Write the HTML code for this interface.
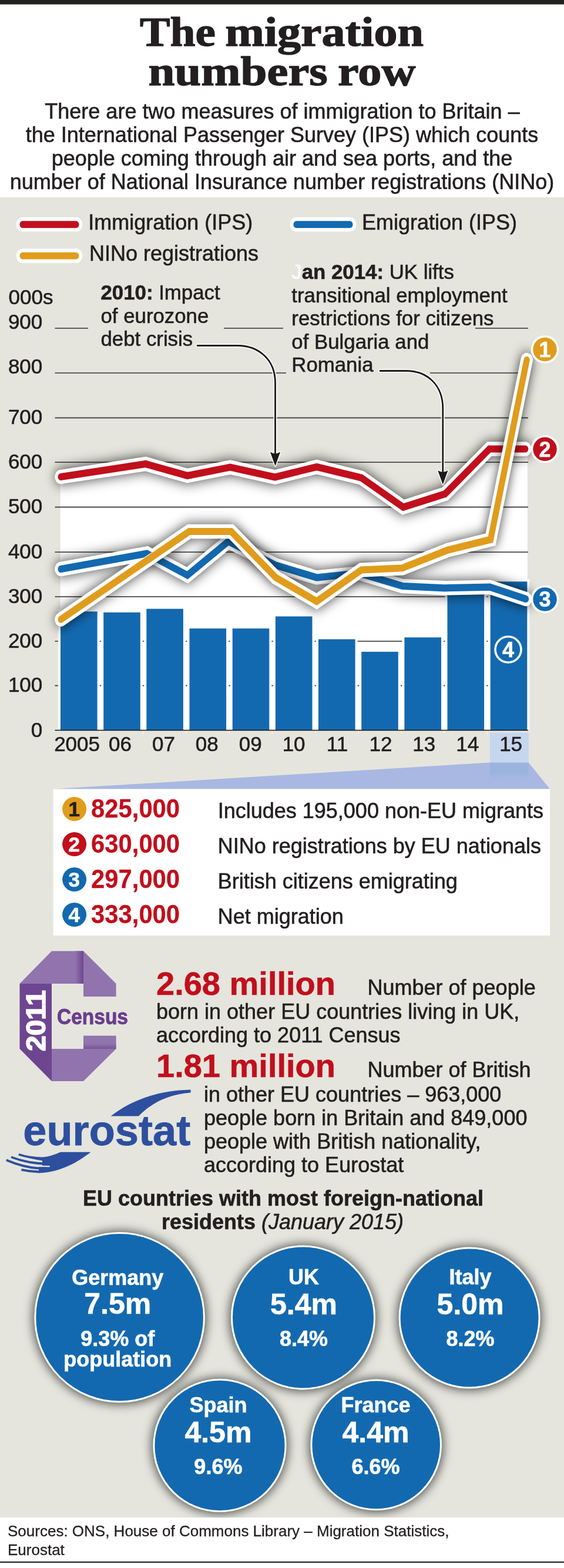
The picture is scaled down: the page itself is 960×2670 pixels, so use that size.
<!DOCTYPE html>
<html lang="en">
<head>
<meta charset="utf-8">
<title>The migration numbers row</title>
<style>
html,body{margin:0;padding:0;background:#fff;}
body{width:960px;height:2670px;overflow:hidden;font-family:"Liberation Sans", sans-serif;}
svg{display:block;}
text{white-space:pre;}
</style>
</head>
<body>
<svg width="960" height="2670" viewBox="0 0 960 2670">
<rect x="0" y="0" width="960" height="2670" fill="#fff"/>
<rect x="0" y="0" width="960" height="7.5" fill="#222220"/>
<rect x="0" y="336" width="960" height="2248" fill="#e5e5dd"/>
<rect x="0" y="2658.8" width="960" height="2.3" fill="#222220"/>
<g font-family="'Liberation Serif', serif" font-weight="bold" font-size="70" fill="#231f20" stroke="#231f20" stroke-width="1.4" stroke-linejoin="round">
<text y="77.8"><tspan x="238.1" textLength="128.8" lengthAdjust="spacingAndGlyphs">The</tspan> <tspan x="383.3" textLength="337.6" lengthAdjust="spacingAndGlyphs">migration</tspan></text>
<text y="144.8"><tspan x="252.4" textLength="305.3" lengthAdjust="spacingAndGlyphs">numbers</tspan> <tspan x="575" textLength="132.4" lengthAdjust="spacingAndGlyphs">row</tspan></text>
</g>
<g font-family="'Liberation Sans', sans-serif" font-size="36" text-anchor="middle" fill="#231f20" stroke="#231f20" stroke-width="0.6">
<text x="480.5" y="201.5">There are two measures of immigration to Britain –</text>
<text x="480" y="241.8">the International Passenger Survey (IPS) which counts</text>
<text x="480" y="282.1">people coming through air and sea ports, and the</text>
<text x="480" y="322.4">number of National Insurance number registrations (NINo)</text>
</g>
<g font-family="'Liberation Sans', sans-serif" fill="#231f20">
<g transform="scale(0.84,1)" stroke-linecap="round">
<line x1="45.12" y1="382.2" x2="154.88" y2="382.2" stroke="#fff" stroke-width="24.2"/>
<line x1="45.83" y1="382.2" x2="154.17" y2="382.2" stroke="#c10f1c" stroke-width="11.9"/>
</g>
<text x="150.2" y="391" font-size="36" stroke="#231f20" stroke-width="0.6">Immigration (IPS)</text>
<g transform="scale(0.84,1)" stroke-linecap="round">
<line x1="45.12" y1="435.6" x2="154.88" y2="435.6" stroke="#fff" stroke-width="24.2"/>
<line x1="45.83" y1="435.6" x2="154.17" y2="435.6" stroke="#e09c1c" stroke-width="11.9"/>
</g>
<text x="151.9" y="444" font-size="36" stroke="#231f20" stroke-width="0.6">NINo registrations</text>
<g transform="scale(0.84,1)" stroke-linecap="round">
<line x1="599.88" y1="382.2" x2="709.64" y2="382.2" stroke="#fff" stroke-width="24.2"/>
<line x1="600.60" y1="382.2" x2="708.93" y2="382.2" stroke="#1369af" stroke-width="11.9"/>
</g>
<text x="616" y="391" font-size="36" stroke="#231f20" stroke-width="0.6">Emigration (IPS)</text>
<defs><filter id="sh" filterUnits="userSpaceOnUse" x="0" y="500" width="1200" height="900"><feGaussianBlur stdDeviation="11"/></filter><filter id="sh2" filterUnits="userSpaceOnUse" x="0" y="2000" width="960" height="670"><feGaussianBlur stdDeviation="9"/></filter><linearGradient id="hl" x1="0" y1="0" x2="0" y2="1"><stop offset="0" stop-color="#8fb0dc" stop-opacity="0.55"/><stop offset="0.5" stop-color="#8fb0dc" stop-opacity="0.6"/><stop offset="1" stop-color="#a8b8e2" stop-opacity="0.15"/></linearGradient><linearGradient id="fold1" x1="0" y1="0" x2="1" y2="0"><stop offset="0" stop-color="#9174ad"/><stop offset="1" stop-color="#6e4590"/></linearGradient><linearGradient id="fold2" x1="0" y1="0" x2="0" y2="1"><stop offset="0" stop-color="#9174ad"/><stop offset="1" stop-color="#6e4590"/></linearGradient></defs>
<polygon points="103.6,812 248,790 319,810 391.8,795.6 468,812.5 539,795 615,813.5 686.4,863.7 757.7,841 833,764.5 894.2,764.5 897.8,764.5 897.8,1243 102.8,1243 102.8,812" fill="#fff"/>
<line x1="93.5" y1="558.8" x2="150" y2="558.8" stroke="#4a4a4a" stroke-width="1.8"/>
<line x1="381" y1="558.8" x2="482" y2="558.8" stroke="#4a4a4a" stroke-width="1.8"/>
<line x1="809" y1="558.8" x2="899" y2="558.8" stroke="#4a4a4a" stroke-width="1.8"/>
<line x1="93.5" y1="635.1" x2="487" y2="635.1" stroke="#4a4a4a" stroke-width="1.8"/>
<line x1="732" y1="635.1" x2="899" y2="635.1" stroke="#4a4a4a" stroke-width="1.8"/>
<line x1="93.5" y1="711.5" x2="899" y2="711.5" stroke="#4a4a4a" stroke-width="1.8"/>
<line x1="93.5" y1="787.2" x2="899" y2="787.2" stroke="#4a4a4a" stroke-width="1.8"/>
<line x1="93.5" y1="863.5" x2="899" y2="863.5" stroke="#4a4a4a" stroke-width="1.8"/>
<line x1="93.5" y1="940.2" x2="899" y2="940.2" stroke="#4a4a4a" stroke-width="1.8"/>
<line x1="93.5" y1="1016.1" x2="899" y2="1016.1" stroke="#4a4a4a" stroke-width="1.8"/>
<line x1="93.5" y1="1091.8" x2="899" y2="1091.8" stroke="#4a4a4a" stroke-width="1.8"/>
<line x1="93.5" y1="1167.5" x2="899" y2="1167.5" stroke="#4a4a4a" stroke-width="1.8"/>
<rect x="98.9" y="1037.4" width="70.8" height="205.6" fill="#fff"/>
<rect x="172.1" y="1038.9" width="70.8" height="204.1" fill="#fff"/>
<rect x="245.2" y="1032.8" width="70.8" height="210.2" fill="#fff"/>
<rect x="318.4" y="1066.3" width="70.8" height="176.7" fill="#fff"/>
<rect x="391.6" y="1066.3" width="70.8" height="176.7" fill="#fff"/>
<rect x="464.8" y="1045.7" width="70.8" height="197.3" fill="#fff"/>
<rect x="537.9" y="1084.6" width="70.8" height="158.4" fill="#fff"/>
<rect x="611.1" y="1105.9" width="70.8" height="137.1" fill="#fff"/>
<rect x="684.3" y="1081.5" width="70.8" height="161.5" fill="#fff"/>
<rect x="757.4" y="1001.6" width="70.8" height="241.4" fill="#fff"/>
<rect x="830.6" y="986.4" width="70.8" height="256.6" fill="#fff"/>
<rect x="103.0" y="1041.3" width="62.6" height="201.7" fill="#1369af"/>
<rect x="176.2" y="1042.8" width="62.6" height="200.2" fill="#1369af"/>
<rect x="249.3" y="1036.7" width="62.6" height="206.3" fill="#1369af"/>
<rect x="322.5" y="1070.2" width="62.6" height="172.8" fill="#1369af"/>
<rect x="395.7" y="1070.2" width="62.6" height="172.8" fill="#1369af"/>
<rect x="468.9" y="1049.6" width="62.6" height="193.4" fill="#1369af"/>
<rect x="542.0" y="1088.5" width="62.6" height="154.5" fill="#1369af"/>
<rect x="615.2" y="1109.8" width="62.6" height="133.2" fill="#1369af"/>
<rect x="688.4" y="1085.4" width="62.6" height="157.6" fill="#1369af"/>
<rect x="761.5" y="1005.5" width="62.6" height="237.5" fill="#1369af"/>
<rect x="834.7" y="990.3" width="62.6" height="252.7" fill="#1369af"/>
<polygon points="90.5,1343.6 834,1298.4 899.7,1298.4 936,1343.6" fill="#a8b8e2"/>
<rect x="834" y="1247.6" width="65.7" height="50.8" fill="#c5d6ee"/>
<rect x="834" y="1298.4" width="65.7" height="33.2" fill="url(#hl)"/>
<rect x="170.2" y="1244.3" width="1.2" height="5" fill="#fff" opacity="0.8"/>
<rect x="243.3" y="1244.3" width="1.2" height="5" fill="#fff" opacity="0.8"/>
<rect x="316.5" y="1244.3" width="1.2" height="5" fill="#fff" opacity="0.8"/>
<rect x="389.7" y="1244.3" width="1.2" height="5" fill="#fff" opacity="0.8"/>
<rect x="462.9" y="1244.3" width="1.2" height="5" fill="#fff" opacity="0.8"/>
<rect x="536.0" y="1244.3" width="1.2" height="5" fill="#fff" opacity="0.8"/>
<rect x="609.2" y="1244.3" width="1.2" height="5" fill="#fff" opacity="0.8"/>
<rect x="682.4" y="1244.3" width="1.2" height="5" fill="#fff" opacity="0.8"/>
<rect x="755.5" y="1244.3" width="1.2" height="5" fill="#fff" opacity="0.8"/>
<rect x="828.7" y="1244.3" width="1.2" height="5" fill="#fff" opacity="0.8"/>
<line x1="93.5" y1="1243.5" x2="899" y2="1243.5" stroke="#111" stroke-width="1.7"/>
<clipPath id="cb"><polygon points="101.2,1057.5 101.2,860 438.1,860 438.1,866.5"/></clipPath>
<g transform="scale(0.84,1)" fill="none" stroke-linecap="round" stroke-linejoin="miter" stroke-miterlimit="10">
<polyline points="123.33,812 295.24,790 379.76,810 466.43,795.6 557.14,812.5 641.67,795 732.14,813.5 817.14,863.7 902.02,841 991.67,764.5 1064.52,764.5" stroke="#000" stroke-opacity="0.75" stroke-width="24.4" filter="url(#sh)"/>
<polyline points="123.33,812 295.24,790 379.76,810 466.43,795.6 557.14,812.5 641.67,795 732.14,813.5 817.14,863.7 902.02,841 991.67,764.5 1064.52,764.5" stroke="#fff" stroke-width="24.4"/>
<polyline points="123.33,812 295.24,790 379.76,810 466.43,795.6 557.14,812.5 641.67,795 732.14,813.5 817.14,863.7 902.02,841 991.67,764.5 1064.52,764.5" stroke="#c10f1c" stroke-width="12.2"/>
</g>
<g transform="scale(0.84,1)" fill="none" stroke-linecap="round" stroke-linejoin="miter" stroke-miterlimit="10">
<polyline points="123.33,969 297.62,942.5 379.76,979.5 462.62,922 559.05,962.5 641.67,983.5 728.57,976 815.48,998 901.19,1001.3 992.62,999.7 1065.48,1020" stroke="#000" stroke-opacity="0.75" stroke-width="24.4" filter="url(#sh)"/>
<polyline points="123.33,969 297.62,942.5 379.76,979.5 462.62,922 559.05,962.5 641.67,983.5 728.57,976 815.48,998 901.19,1001.3 992.62,999.7 1065.48,1020" stroke="#fff" stroke-width="24.4"/>
<polyline points="123.33,969 297.62,942.5 379.76,979.5 462.62,922 559.05,962.5 641.67,983.5 728.57,976 815.48,998 901.19,1001.3 992.62,999.7 1065.48,1020" stroke="#1369af" stroke-width="12.2"/>
</g>
<g transform="scale(0.84,1)" fill="none" stroke-linecap="round" stroke-linejoin="miter" stroke-miterlimit="10">
<polyline points="123.33,1054.8 383.33,905 468.45,905 559.05,983.5 641.67,1024 732.14,970.5 815.24,967.3 907.74,936.5 994.05,918.7 1067.38,613" stroke="#000" stroke-opacity="0.75" stroke-width="24.4" filter="url(#sh)"/>
<polyline points="123.33,1054.8 383.33,905 468.45,905 559.05,983.5 641.67,1024 732.14,970.5 815.24,967.3 907.74,936.5 994.05,918.7 1067.38,613" stroke="#fff" stroke-width="24.4"/>
<polyline points="123.33,1054.8 383.33,905 468.45,905 559.05,983.5 641.67,1024 732.14,970.5 815.24,967.3 907.74,936.5 994.05,918.7 1067.38,613" stroke="#e09c1c" stroke-width="12.2"/>
</g>
<g transform="scale(0.84,1)" fill="none" stroke-linecap="round" stroke-linejoin="miter" stroke-miterlimit="10" clip-path="url(#cb)">
<polyline points="123.33,969 297.62,942.5 379.76,979.5" stroke="#fff" stroke-width="24.4"/>
<polyline points="123.33,969 297.62,942.5 379.76,979.5" stroke="#1369af" stroke-width="12.2"/>
</g>
<circle cx="927.5" cy="595" r="22" fill="#e09c1c" stroke="#fff" stroke-width="3.6"/>
<text x="927.5" y="607.8" font-size="36" font-weight="bold" text-anchor="middle" fill="#fff" stroke="#fff" stroke-width="0.6">1</text>
<circle cx="927.5" cy="764.7" r="22" fill="#c10f1c" stroke="#fff" stroke-width="3.6"/>
<text x="927.5" y="777.5" font-size="36" font-weight="bold" text-anchor="middle" fill="#fff" stroke="#fff" stroke-width="0.6">2</text>
<circle cx="927.5" cy="1020.5" r="22" fill="#1369af" stroke="#fff" stroke-width="3.6"/>
<text x="927.5" y="1033.3" font-size="36" font-weight="bold" text-anchor="middle" fill="#fff" stroke="#fff" stroke-width="0.6">3</text>
<circle cx="865" cy="1106" r="22" fill="#1369af" stroke="#fff" stroke-width="3.6"/>
<text x="865" y="1118.8" font-size="36" font-weight="bold" text-anchor="middle" fill="#fff" stroke="#fff" stroke-width="0.6">4</text>
<g font-size="35">
<text x="14.6" y="517.8" font-size="35" stroke="#231f20" stroke-width="0.6">000s</text>
<text x="72.3" y="1254.6" font-size="35" text-anchor="end" stroke="#231f20" stroke-width="0.6">0</text>
<text x="72.3" y="1178.4" font-size="35" text-anchor="end" stroke="#231f20" stroke-width="0.6">100</text>
<text x="72.3" y="1102.7" font-size="35" text-anchor="end" stroke="#231f20" stroke-width="0.6">200</text>
<text x="72.3" y="1027.0" font-size="35" text-anchor="end" stroke="#231f20" stroke-width="0.6">300</text>
<text x="72.3" y="951.1" font-size="35" text-anchor="end" stroke="#231f20" stroke-width="0.6">400</text>
<text x="72.3" y="874.4" font-size="35" text-anchor="end" stroke="#231f20" stroke-width="0.6">500</text>
<text x="72.3" y="798.1" font-size="35" text-anchor="end" stroke="#231f20" stroke-width="0.6">600</text>
<text x="72.3" y="722.4" font-size="35" text-anchor="end" stroke="#231f20" stroke-width="0.6">700</text>
<text x="72.3" y="636.3" font-size="35" text-anchor="end" stroke="#231f20" stroke-width="0.6">800</text>
<text x="72.3" y="560.0" font-size="35" text-anchor="end" stroke="#231f20" stroke-width="0.6">900</text>
<text x="131.1" y="1279" font-size="35" text-anchor="middle" stroke="#231f20" stroke-width="0.6">2005</text>
<text x="204.5" y="1279" font-size="35" text-anchor="middle" stroke="#231f20" stroke-width="0.6">06</text>
<text x="278.4" y="1279" font-size="35" text-anchor="middle" stroke="#231f20" stroke-width="0.6">07</text>
<text x="352.3" y="1279" font-size="35" text-anchor="middle" stroke="#231f20" stroke-width="0.6">08</text>
<text x="426.2" y="1279" font-size="35" text-anchor="middle" stroke="#231f20" stroke-width="0.6">09</text>
<text x="500.1" y="1279" font-size="35" text-anchor="middle" stroke="#231f20" stroke-width="0.6">10</text>
<text x="574.0" y="1279" font-size="35" text-anchor="middle" stroke="#231f20" stroke-width="0.6">11</text>
<text x="647.9" y="1279" font-size="35" text-anchor="middle" stroke="#231f20" stroke-width="0.6">12</text>
<text x="721.8" y="1279" font-size="35" text-anchor="middle" stroke="#231f20" stroke-width="0.6">13</text>
<text x="795.7" y="1279" font-size="35" text-anchor="middle" stroke="#231f20" stroke-width="0.6">14</text>
<text x="869.6" y="1279" font-size="35" text-anchor="middle" stroke="#231f20" stroke-width="0.6">15</text>
</g>
<text x="171.5" y="510.0" font-size="34.8" stroke="#231f20" stroke-width="0.6"><tspan font-weight="bold">2010:</tspan> Impact</text>
<text x="171.5" y="549.5" font-size="34.8" stroke="#231f20" stroke-width="0.6">of eurozone</text>
<text x="171.5" y="589.0" font-size="34.8" stroke="#231f20" stroke-width="0.6">debt crisis</text>
<text x="496.3" y="475.0" font-size="34.8" stroke="#231f20" stroke-width="0.6"><tspan fill="#fff" stroke="#fff">J</tspan><tspan font-weight="bold">an 2014:</tspan> UK lifts</text>
<text x="496.3" y="514.5" font-size="34.8" stroke="#231f20" stroke-width="0.6">transitional employment</text>
<text x="496.3" y="554.0" font-size="34.8" stroke="#231f20" stroke-width="0.6">restrictions for citizens</text>
<text x="496.3" y="593.5" font-size="34.8" stroke="#231f20" stroke-width="0.6">of Bulgaria and</text>
<text x="496.3" y="633.0" font-size="34.8" stroke="#231f20" stroke-width="0.6">Romania</text>
<path d="M336,588.5 H404 C440,588.5 468.5,612 468.5,652 V775" fill="none" stroke="#fff" stroke-width="6" stroke-linecap="round"/>
<path d="M468.5,793.5 l-8.7,-24 q8.7,5.5 17.4,0 z" fill="#1a1a1a" stroke="#fff" stroke-width="3" stroke-linejoin="round"/>
<path d="M336,588.5 H404 C440,588.5 468.5,612 468.5,652 V775" fill="none" stroke="#1a1a1a" stroke-width="2.8" stroke-linecap="round"/>
<path d="M468.5,793.5 l-8.7,-24 q8.7,5.5 17.4,0 z" fill="#1a1a1a"/>
<path d="M647,631.5 H691 C727,631.5 753.8,655 753.8,696 V806" fill="none" stroke="#fff" stroke-width="6" stroke-linecap="round"/>
<path d="M753.8,825 l-8.7,-24 q8.7,5.5 17.4,0 z" fill="#1a1a1a" stroke="#fff" stroke-width="3" stroke-linejoin="round"/>
<path d="M647,631.5 H691 C727,631.5 753.8,655 753.8,696 V806" fill="none" stroke="#1a1a1a" stroke-width="2.8" stroke-linecap="round"/>
<path d="M753.8,825 l-8.7,-24 q8.7,5.5 17.4,0 z" fill="#1a1a1a"/>
<rect x="90.5" y="1343.6" width="845.5" height="249.5" fill="#fff"/>
<circle cx="126.6" cy="1377.5" r="20.5" fill="#e09c1c"/>
<text x="126.3" y="1390.0" font-size="35" font-weight="bold" text-anchor="middle" stroke="#231f20" stroke-width="0.6">1</text>
<text x="155.1" y="1391.8" font-size="45" font-weight="bold" fill="#c10f1c" stroke="#c10f1c" stroke-width="0.3" textLength="151" lengthAdjust="spacingAndGlyphs">825,000</text>
<text x="370.7" y="1392.6" font-size="36" stroke="#231f20" stroke-width="0.6">Includes 195,000 non-EU migrants</text>
<circle cx="126.6" cy="1437.5" r="20.5" fill="#c10f1c"/>
<text x="126.3" y="1450.0" font-size="35" font-weight="bold" text-anchor="middle" fill="#fff" stroke="#fff" stroke-width="0.6">2</text>
<text x="155.1" y="1451.8" font-size="45" font-weight="bold" fill="#c10f1c" stroke="#c10f1c" stroke-width="0.3" textLength="151" lengthAdjust="spacingAndGlyphs">630,000</text>
<text x="370.7" y="1452.6" font-size="36" stroke="#231f20" stroke-width="0.6">NINo registrations by EU nationals</text>
<circle cx="126.6" cy="1497.5" r="20.5" fill="#1369af"/>
<text x="126.3" y="1510.0" font-size="35" font-weight="bold" text-anchor="middle" fill="#fff" stroke="#fff" stroke-width="0.6">3</text>
<text x="155.1" y="1511.8" font-size="45" font-weight="bold" fill="#c10f1c" stroke="#c10f1c" stroke-width="0.3" textLength="151" lengthAdjust="spacingAndGlyphs">297,000</text>
<text x="370.7" y="1512.6" font-size="36" stroke="#231f20" stroke-width="0.6">British citizens emigrating</text>
<circle cx="126.6" cy="1557.5" r="20.5" fill="#1369af"/>
<text x="126.3" y="1570.0" font-size="35" font-weight="bold" text-anchor="middle" fill="#fff" stroke="#fff" stroke-width="0.6">4</text>
<text x="155.1" y="1571.8" font-size="45" font-weight="bold" fill="#c10f1c" stroke="#c10f1c" stroke-width="0.3" textLength="151" lengthAdjust="spacingAndGlyphs">333,000</text>
<text x="370.7" y="1572.6" font-size="36" stroke="#231f20" stroke-width="0.6">Net migration</text>
<polygon points="88,1619.5 142,1619.5 142,1675 33.5,1675" fill="#9174ad"/>
<rect x="128" y="1619.5" width="14" height="55.5" fill="url(#fold1)"/>
<polygon points="142,1619.5 197.6,1675 197.6,1697 142,1697" fill="#9174ad"/>
<polygon points="33.5,1675 88,1675 88,1841 33.5,1786" fill="#6e4590"/>
<polygon points="88,1786 197.6,1786 142,1841 88,1841" fill="#9174ad"/>
<rect x="142" y="1763.6" width="55.6" height="22.4" fill="#9174ad"/>
<rect x="142" y="1777" width="55.6" height="9" fill="url(#fold2)" opacity="0.7"/>
<text transform="translate(77,1790) rotate(-90)" font-size="47" font-weight="bold" fill="#fff" stroke="#fff" stroke-width="1.6" textLength="104" lengthAdjust="spacingAndGlyphs">2011</text>
<text x="97" y="1744.3" font-size="36.5" font-weight="bold" fill="#6a3d8f" stroke="#6a3d8f" stroke-width="0.9" textLength="121" lengthAdjust="spacingAndGlyphs">Census</text>
<text x="39.3" y="1950" font-size="72" font-weight="bold" fill="#2d4f9e" stroke="#2d4f9e" stroke-width="0.8" textLength="285" lengthAdjust="spacingAndGlyphs">eurostat</text>
<path d="M188.6,1900.5 C225,1872 270,1857 324.6,1855.5 L324.6,1860.5 C285,1864 258,1878 236,1900.5 Z" fill="#2d4f9e"/>
<g fill="#2d4f9e">
<path d="M154.5,1961.7 H103 Q88,1968.8 72,1970.6 V1986.3 H66 V1997.4 C105,1996 135,1977 154.5,1961.7 Z"/>
<path d="M32.4,1964 Q48.8,1969.7 72.5,1970.6 L72.5,1976.5 Q49.4,1972.8 31.2,1967.5 Z"/>
<path d="M19.4,1968.5 Q49,1980.1 84.6,1979.3 L84.6,1984.2 Q49.5,1984 18.5,1972 Z"/>
<path d="M11.3,1973.5 Q39.2,1985.5 66.5,1987.6 L66.5,1991.6 Q39.7,1989.7 10.2,1977.2 Z"/>
<path d="M36.8,1990 Q50.5,1992.8 66.5,1993.6 L66.5,1997.4 Q50.5,1997 36,1993.8 Z"/>
</g>
<path d="M66,1985.8 L84.8,1986.2" stroke="#e5e5dd" stroke-width="2.2" fill="none"/>
<text x="266" y="1693.5" font-size="56" font-weight="bold" fill="#c10f1c" stroke="#c10f1c" stroke-width="0.6">2.68 million</text>
<text x="625.5" y="1693.5" font-size="36" stroke="#231f20" stroke-width="0.6">Number of people</text>
<text x="266" y="1735" font-size="36" stroke="#231f20" stroke-width="0.6">born in other EU countries living in UK,</text>
<text x="266" y="1774.5" font-size="36" stroke="#231f20" stroke-width="0.6">according to 2011 Census</text>
<text x="266" y="1833.5" font-size="56" font-weight="bold" fill="#c10f1c" stroke="#c10f1c" stroke-width="0.6">1.81 million</text>
<text x="625.5" y="1833.5" font-size="36" stroke="#231f20" stroke-width="0.6">Number of British</text>
<text x="347" y="1875.8" font-size="36" stroke="#231f20" stroke-width="0.6">in other EU countries – 963,000</text>
<text x="347" y="1915.8" font-size="36" stroke="#231f20" stroke-width="0.6">people born in Britain and 849,000</text>
<text x="347" y="1955.8" font-size="36" stroke="#231f20" stroke-width="0.6">people with British nationality,</text>
<text x="347" y="1995.8" font-size="36" stroke="#231f20" stroke-width="0.6">according to Eurostat</text>
<text x="482" y="2052.5" font-size="36" font-weight="bold" text-anchor="middle" stroke="#231f20" stroke-width="0.6">EU countries with most foreign-national</text>
<text x="481" y="2093" font-size="36" text-anchor="middle" stroke="#231f20" stroke-width="0.6"><tspan font-weight="bold">residents </tspan><tspan font-style="italic">(January 2015)</tspan></text>
<circle cx="203.6" cy="2243.8" r="146.8" fill="#000" fill-opacity="0.7" filter="url(#sh2)"/>
<circle cx="203.6" cy="2243.3" r="143.8" fill="#1369af" stroke="#fff" stroke-width="3"/>
<text x="200.2" y="2188" font-size="36" font-weight="bold" text-anchor="middle" fill="#fff" stroke="#fff" stroke-width="0.6">Germany</text>
<text x="200.2" y="2236.8" font-size="50" font-weight="bold" text-anchor="middle" fill="#fff" stroke="#fff" stroke-width="0.6">7.5m</text>
<text x="200.2" y="2291.8" font-size="36" font-weight="bold" text-anchor="middle" fill="#fff" stroke="#fff" stroke-width="0.6">9.3% of</text>
<text x="200.2" y="2327.0" font-size="36" font-weight="bold" text-anchor="middle" fill="#fff" stroke="#fff" stroke-width="0.6">population</text>
<circle cx="516" cy="2243.9" r="124.5" fill="#000" fill-opacity="0.7" filter="url(#sh2)"/>
<circle cx="516" cy="2243.4" r="121.5" fill="#1369af" stroke="#fff" stroke-width="3"/>
<text x="517" y="2187.3" font-size="36" font-weight="bold" text-anchor="middle" fill="#fff" stroke="#fff" stroke-width="0.6">UK</text>
<text x="517" y="2237.5" font-size="50" font-weight="bold" text-anchor="middle" fill="#fff" stroke="#fff" stroke-width="0.6">5.4m</text>
<text x="517" y="2292.0" font-size="36" font-weight="bold" text-anchor="middle" fill="#fff" stroke="#fff" stroke-width="0.6">8.4%</text>
<circle cx="799.1" cy="2244.5" r="122" fill="#000" fill-opacity="0.7" filter="url(#sh2)"/>
<circle cx="799.1" cy="2244" r="119" fill="#1369af" stroke="#fff" stroke-width="3"/>
<text x="800.6" y="2187.3" font-size="36" font-weight="bold" text-anchor="middle" fill="#fff" stroke="#fff" stroke-width="0.6">Italy</text>
<text x="800.6" y="2237.5" font-size="50" font-weight="bold" text-anchor="middle" fill="#fff" stroke="#fff" stroke-width="0.6">5.0m</text>
<text x="800.6" y="2292.0" font-size="36" font-weight="bold" text-anchor="middle" fill="#fff" stroke="#fff" stroke-width="0.6">8.2%</text>
<circle cx="374" cy="2461.9" r="115.1" fill="#000" fill-opacity="0.7" filter="url(#sh2)"/>
<circle cx="374" cy="2461.4" r="112.1" fill="#1369af" stroke="#fff" stroke-width="3"/>
<text x="371.4" y="2404.5" font-size="36" font-weight="bold" text-anchor="middle" fill="#fff" stroke="#fff" stroke-width="0.6">Spain</text>
<text x="371.4" y="2455.6" font-size="50" font-weight="bold" text-anchor="middle" fill="#fff" stroke="#fff" stroke-width="0.6">4.5m</text>
<text x="371.4" y="2510.0" font-size="36" font-weight="bold" text-anchor="middle" fill="#fff" stroke="#fff" stroke-width="0.6">9.6%</text>
<circle cx="640.2" cy="2460.8" r="113.3" fill="#000" fill-opacity="0.7" filter="url(#sh2)"/>
<circle cx="640.2" cy="2460.3" r="110.3" fill="#1369af" stroke="#fff" stroke-width="3"/>
<text x="639.5" y="2404.5" font-size="36" font-weight="bold" text-anchor="middle" fill="#fff" stroke="#fff" stroke-width="0.6">France</text>
<text x="639.5" y="2455.6" font-size="50" font-weight="bold" text-anchor="middle" fill="#fff" stroke="#fff" stroke-width="0.6">4.4m</text>
<text x="639.5" y="2510.0" font-size="36" font-weight="bold" text-anchor="middle" fill="#fff" stroke="#fff" stroke-width="0.6">6.6%</text>
<rect x="0" y="2584.3" width="960" height="74.3" fill="#fff"/>
<text x="13" y="2615.7" font-size="26" stroke="#231f20" stroke-width="0.3">Sources: ONS, House of Commons Library – Migration Statistics,</text>
<text x="13" y="2648.2" font-size="26" stroke="#231f20" stroke-width="0.3">Eurostat</text>
</g>
</svg>
</body>
</html>
